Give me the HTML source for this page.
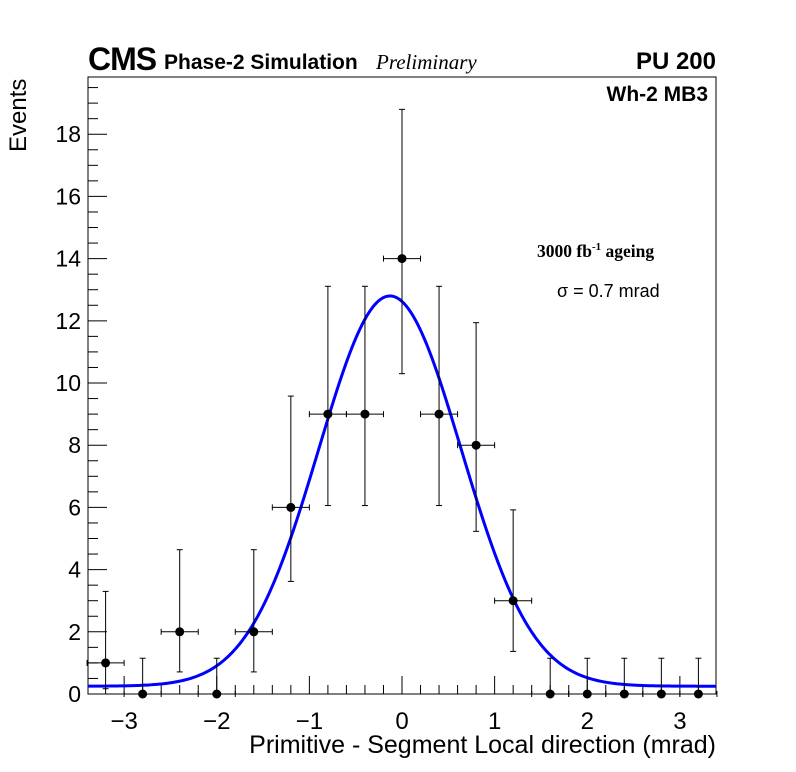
<!DOCTYPE html>
<html><head><meta charset="utf-8"><style>
html,body{margin:0;padding:0;background:#fff;}
svg{display:block;font-family:"Liberation Sans",sans-serif;}
</style></head><body>
<svg id="chart" width="796" height="772" viewBox="0 0 796 772">
<text x="88" y="70" font-size="32" font-weight="bold" style="letter-spacing:-1px">CMS</text>
<text x="164" y="69" font-size="21" font-weight="bold">Phase-2 Simulation</text>
<text x="376" y="69" font-size="21" font-style="italic" font-family="Liberation Serif,serif">Preliminary</text>
<text x="716" y="69" font-size="24" font-weight="bold" text-anchor="end">PU 200</text>
<rect x="88" y="77" width="628" height="617" fill="none" stroke="#000" stroke-width="1"/>
<text x="708" y="101" font-size="21" font-weight="bold" text-anchor="end">Wh-2 MB3</text>
<text x="537" y="257" font-size="17.5" font-weight="bold" font-family="Liberation Serif,serif">3000 fb<tspan dy="-7" font-size="11">-1</tspan><tspan dy="7"> ageing</tspan></text>
<text x="557" y="297" font-size="18">σ = 0.7 mrad</text>
<text x="716" y="753" font-size="25" text-anchor="end">Primitive - Segment Local direction (mrad)</text>
<text transform="translate(26,152) rotate(-90)" font-size="24">Events</text>
<g id="axes"></g>
<g id="marks"></g>
</svg>
<script>
const binCenters=[-3.2,-2.8,-2.4,-2.0,-1.6,-1.2,-0.8,-0.4,0,0.4,0.8,1.2,1.6,2.0,2.4,2.8,3.2];
const counts=[1,0,2,0,2,6,9,9,14,9,8,3,0,0,0,0,0];
const errLow=[0.83,0,1.29,0,1.29,2.38,2.94,2.94,3.7,2.94,2.77,1.63,0,0,0,0,0];
const errHigh=[2.3,1.15,2.64,1.15,2.64,3.58,4.11,4.11,4.8,4.11,3.94,2.92,1.15,1.15,1.15,1.15,1.15];
const fitAmp=12.55, fitMean=-0.13, fitSigma=0.77, fitConst=0.25;
const xTicks=[-3,-2,-1,0,1,2,3];
const xTickLabels=["\u22123","\u22122","\u22121","0","1","2","3"];
const yTicks=[0,2,4,6,8,10,12,14,16,18];
const yTickLabels=["0","2","4","6","8","10","12","14","16","18"];
const xMin=-3.39,xMax=3.39,yMin=0,yMax=19.84;
const L=88,R=716,T=77,B=694;
const NS="http://www.w3.org/2000/svg";
function sx(v){return L+(v-xMin)/(xMax-xMin)*(R-L);}
function sy(v){return B-(v-yMin)/(yMax-yMin)*(B-T);}
function mk(tag,attrs,parent){const e=document.createElementNS(NS,tag);for(const k in attrs)e.setAttribute(k,attrs[k]);parent.appendChild(e);return e;}
const axes=document.getElementById('axes'),marks=document.getElementById('marks');
for(let i=Math.ceil(xMin/0.2);i*0.2<=xMax;i++){const v=i*0.2;const x=sx(v);const major=Math.abs(v-Math.round(v))<1e-6;
const t=mk('line',{x1:x,x2:x,y1:B,y2:B-(major?18:9),stroke:'#000','stroke-width':1},axes);

}
xTicks.forEach((v,i)=>{const t=mk('text',{x:sx(v),y:729,'font-size':24,'text-anchor':'middle'},axes);t.textContent=xTickLabels[i];

});
for(let v=0;v<=yMax+1e-6;v+=0.5){const y=sy(v);const major=Math.abs(v/2-Math.round(v/2))<1e-6;
const t=mk('line',{x1:L,x2:L+(major?19:10),y1:y,y2:y,stroke:'#000','stroke-width':1},axes);

}
yTicks.forEach((v,i)=>{const t=mk('text',{x:81,y:sy(v)+8,'font-size':23,'text-anchor':'end'},axes);t.textContent=yTickLabels[i];

});
let d='';for(let i=0;i<=300;i++){const v=xMin+(xMax-xMin)*i/300;const f=fitConst+fitAmp*Math.exp(-0.5*Math.pow((v-fitMean)/fitSigma,2));d+=(i?'L':'M')+sx(v).toFixed(2)+','+sy(f).toFixed(2);}
const c=mk('path',{d:d,fill:'none',stroke:'#0000ff','stroke-width':3},marks);


binCenters.forEach((v,i)=>{const x=sx(v),y=sy(counts[i]);
const g=mk('g',{},marks);


mk('line',{x1:sx(v-0.2),x2:sx(v+0.2),y1:y,y2:y,stroke:'#000','stroke-width':1},g);
[sx(v-0.2),sx(v+0.2)].forEach(xx=>mk('line',{x1:xx,x2:xx,y1:y-3,y2:y+3,stroke:'#000'},g));
mk('line',{x1:x,x2:x,y1:sy(counts[i]-errLow[i]),y2:sy(counts[i]+errHigh[i]),stroke:'#000','stroke-width':1},g);
mk('line',{x1:x-3,x2:x+3,y1:sy(counts[i]+errHigh[i]),y2:sy(counts[i]+errHigh[i]),stroke:'#000'},g);
if(errLow[i]>0)mk('line',{x1:x-3,x2:x+3,y1:sy(counts[i]-errLow[i]),y2:sy(counts[i]-errLow[i]),stroke:'#000'},g);
mk('circle',{cx:x,cy:y,r:4.5,fill:'#000'},g);});
</script>
</body></html>
